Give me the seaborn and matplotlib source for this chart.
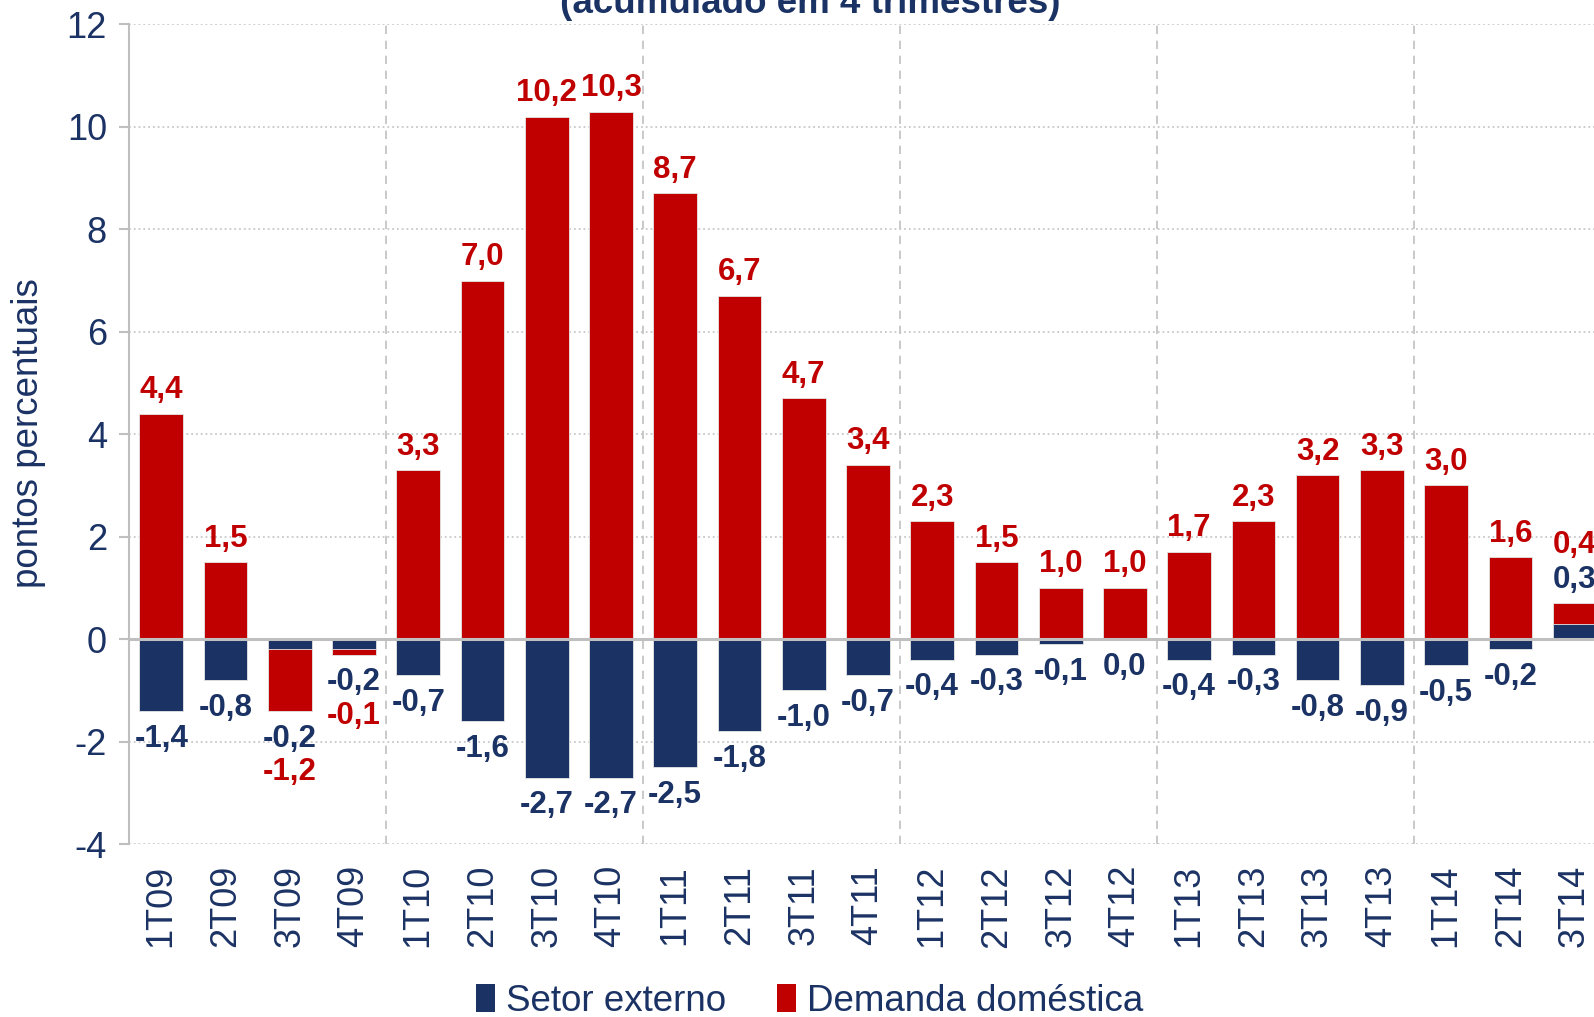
import numpy as np
import pandas as pd
import seaborn as sns
import matplotlib.pyplot as plt
from matplotlib.patches import Patch

# dados (pontos percentuais, acumulado em 4 trimestres)
trimestres = ["1T09", "2T09", "3T09", "4T09", "1T10", "2T10", "3T10", "4T10",
              "1T11", "2T11", "3T11", "4T11", "1T12", "2T12", "3T12", "4T12",
              "1T13", "2T13", "3T13", "4T13", "1T14", "2T14", "3T14"]
setor_externo = [-1.4, -0.8, -0.2, -0.2, -0.7, -1.6, -2.7, -2.7,
                 -2.5, -1.8, -1.0, -0.7, -0.4, -0.3, -0.1, 0.0,
                 -0.4, -0.3, -0.8, -0.9, -0.5, -0.2, 0.3]
demanda_domestica = [4.4, 1.5, -1.2, -0.1, 3.3, 7.0, 10.2, 10.3,
                     8.7, 6.7, 4.7, 3.4, 2.3, 1.5, 1.0, 1.0,
                     1.7, 2.3, 3.2, 3.3, 3.0, 1.6, 0.4]

AZUL = "#1B3264"
VERMELHO = "#C00000"
CINZA = "#BFBFBF"

sns.set_style("white")
plt.rcParams["font.family"] = ["Liberation Sans", "DejaVu Sans"]
plt.rcParams["axes.unicode_minus"] = False

ext = np.array(setor_externo)
dom = np.array(demanda_domestica)

# empilhamento estilo Excel: positivos sobre positivos, negativos sob negativos
mesmo_sinal = (np.sign(ext) == np.sign(dom)) & (ext != 0)
dom_base = np.where(mesmo_sinal, ext, 0.0)
dom_fim = dom_base + dom

df = pd.DataFrame({"tri": trimestres, "ext": ext, "dom_fim": dom_fim})

fig = plt.figure(figsize=(15.94, 10.17), dpi=100)
ax = fig.add_axes([0.081, 0.17, 0.927, 0.806])

# camada da demanda doméstica (do zero até o fim empilhado), depois setor externo por cima
sns.barplot(data=df, x="tri", y="dom_fim", color=VERMELHO, saturation=1,
            width=0.68, errorbar=None, edgecolor="#e6e6e6", linewidth=0.6,
            ax=ax, zorder=3)
sns.barplot(data=df, x="tri", y="ext", color=AZUL, saturation=1,
            width=0.68, errorbar=None, edgecolor="#e6e6e6", linewidth=0.6,
            ax=ax, zorder=4)

ax.set_ylim(-4, 12)
ax.set_xlim(-0.5, len(trimestres) - 0.5)
ax.set_yticks(range(-4, 13, 2))

# grade e linhas auxiliares
ax.yaxis.grid(True, linestyle=":", color="#c8c8c8", linewidth=1.3)
ax.xaxis.grid(False)
ax.set_axisbelow(True)
ax.axhline(0, color=CINZA, linewidth=2.2, zorder=5)
for sep in [3.5, 7.5, 11.5, 15.5, 19.5]:
    ax.axvline(sep, color="#c0c0c0", linestyle=(0, (5, 4)), linewidth=1.2, zorder=1)

for lado in ["top", "right", "bottom"]:
    ax.spines[lado].set_visible(False)
ax.spines["left"].set_color(CINZA)
ax.spines["left"].set_linewidth(1.5)

ax.tick_params(axis="y", length=7, width=1.5, color=CINZA, pad=9,
               labelsize=26, labelcolor=AZUL, left=True)
ax.tick_params(axis="x", length=0, pad=15, labelsize=26, labelcolor=AZUL,
               labelrotation=90)
ax.set_xlabel("")
ax.set_ylabel("")


def fmt(v):
    return f"{v:.1f}".replace(".", ",")


# rótulos de dados
for i, (e, d) in enumerate(zip(ext, dom)):
    topo = max(0, dom_fim[i], e)
    fundo = min(0, dom_fim[i], e)
    if mesmo_sinal[i]:
        if e > 0:
            pos = [(e, topo, 17, AZUL), (d, topo, 42, VERMELHO)]
        else:
            pos = [(e, fundo, -20, AZUL), (d, fundo, -44, VERMELHO)]
    else:
        pos = [(e, e, 18 if e > 0 else -20, AZUL),
               (d, dom_fim[i], 17 if d >= 0 else -20, VERMELHO)]
    for val, y, off, cor in pos:
        ax.annotate(fmt(val), (i, y), xytext=(0, off), textcoords="offset points",
                    ha="center", va="center", fontsize=22.5, fontweight="bold",
                    color=cor, zorder=6, annotation_clip=False)

fig.text(0.018, 0.574, "pontos percentuais", rotation=90, ha="center", va="center",
         fontsize=26.5, color=AZUL)
fig.text(0.508, 0.987, "(acumulado em 4 trimestres)", ha="center", va="baseline",
         fontsize=26.5, fontweight="bold", color=AZUL)

handles = [Patch(facecolor=AZUL, edgecolor="none"),
           Patch(facecolor=VERMELHO, edgecolor="none")]
fig.legend(handles, ["Setor externo", "Demanda doméstica"], loc="center",
           bbox_to_anchor=(0.508, 0.0155), ncol=2, frameon=False, fontsize=26.5,
           labelcolor=AZUL, handlelength=0.5, handleheight=0.8,
           handletextpad=0.3, columnspacing=1.4)

fig.savefig("out.png", dpi=100)
